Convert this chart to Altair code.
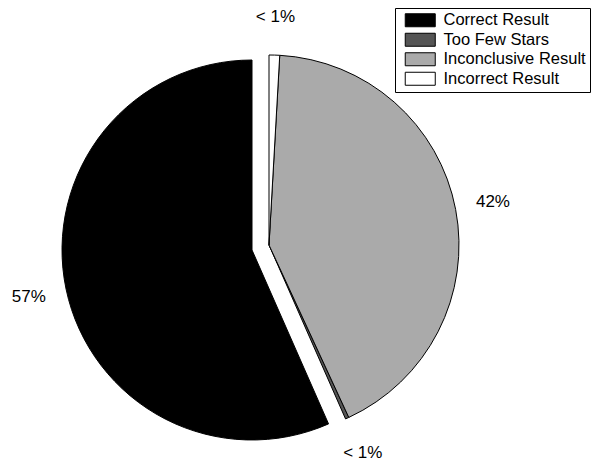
import altair as alt
import pandas as pd

# ---- data ----
categories = ["Correct Result", "Too Few Stars", "Inconclusive Result", "Incorrect Result"]
shares = [56.6, 0.3, 42.2, 0.9]
labels = ["57%", "< 1%", "42%", "< 1%"]
pie_order = [3, 2, 1, 0]          # clockwise from 12 o'clock
colors = ["#000000", "#555555", "#aaaaaa", "#ffffff"]

df = pd.DataFrame({"category": categories, "share": shares,
                   "label": labels, "order": pie_order})

FONT = "Liberation Sans, Arial, Helvetica, sans-serif"
CX, CY = 261, 237      # pie centre
EX, EY = 244, 242      # centre of exploded slice
R = 190
RL = 228               # label radius

theta = alt.Theta("share:Q", stack=True)
order = alt.Order("order:Q", sort="ascending")
fill = alt.Fill("category:N",
                scale=alt.Scale(domain=categories, range=colors),
                legend=alt.Legend(title=None, labelExpr="datum.label + '\u00a0'"))

is_correct = alt.datum.category == "Correct Result"
base = alt.Chart(df)

pie = base.mark_arc(radius=R, stroke="black", strokeWidth=1).encode(
    theta=theta, order=order, fill=fill,
    opacity=alt.condition(is_correct, alt.value(0), alt.value(1)),
    x=alt.value(CX), y=alt.value(CY))

pie_explode = base.mark_arc(radius=R, stroke="black", strokeWidth=1).encode(
    theta=theta, order=order, fill=fill,
    opacity=alt.condition(is_correct, alt.value(1), alt.value(0)),
    x=alt.value(EX), y=alt.value(EY))

txt_main = base.mark_text(radius=RL, font=FONT, fontSize=17, color="black").encode(
    theta=theta, order=order,
    text=alt.condition(is_correct, alt.value(""), alt.Text("label:N")),
    x=alt.value(CX), y=alt.value(CY))

txt_correct = base.mark_text(radius=RL, font=FONT, fontSize=17, color="black").encode(
    theta=theta, order=order,
    text=alt.condition(is_correct, alt.Text("label:N"), alt.value("")),
    x=alt.value(EX), y=alt.value(EY))

chart = alt.layer(pie, pie_explode, txt_main, txt_correct).properties(
    width=584, height=456, autosize="none", padding=0
).configure_view(stroke=None).configure_legend(
    orient="none", legendX=387, legendY=0,
    strokeColor="black", fillColor="white", padding=4,
    symbolType="M-0.308,-1H4.308V1H-0.308Z", symbolSize=169,
    symbolStrokeColor="black", symbolStrokeWidth=1, symbolOpacity=1,
    labelFont=FONT, labelFontSize=16.5, labelColor="black", labelOffset=28,
    labelLimit=0, rowPadding=1.5, cornerRadius=0
)

chart.save("out.html", embed_options={"renderer": "svg", "actions": False})
